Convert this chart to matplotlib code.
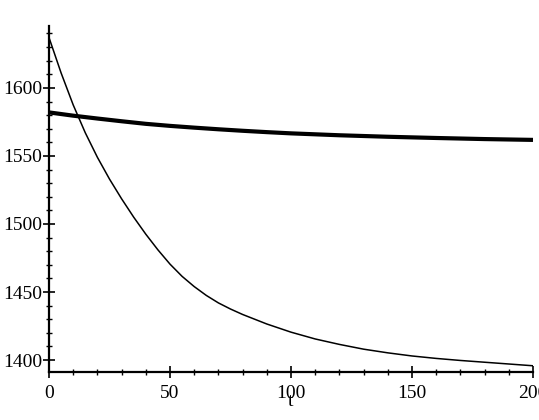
import numpy as np
import matplotlib
matplotlib.use("Agg")
import matplotlib.pyplot as plt
from matplotlib.ticker import MultipleLocator

# thin curve (fast decay)
t_fast = [0, 5, 10, 15, 20, 25, 30, 35, 40, 45, 50, 55, 60, 65, 70, 75, 80,
          90, 100, 110, 120, 130, 140, 150, 160, 170, 180, 190, 200]
y_fast = [1637, 1611, 1587.5, 1567, 1549, 1533, 1518.5, 1505, 1492.5, 1481,
          1470.5, 1461.5, 1454, 1447.5, 1442, 1437.5, 1433.5, 1426.5, 1420.5,
          1415.5, 1411.5, 1408, 1405.3, 1403, 1401.2, 1399.7, 1398.4, 1397.1,
          1395.8]

# thick curve (slow decay)
t_slow = [0, 10, 20, 30, 40, 50, 60, 70, 80, 90, 100, 120, 140, 160, 180, 200]
y_slow = [1582, 1579.6, 1577.5, 1575.5, 1573.6, 1572.1, 1570.8, 1569.6,
          1568.5, 1567.5, 1566.6, 1565.2, 1564.1, 1563.2, 1562.4, 1561.8]

xticks = [0, 50, 100, 150, 200]
yticks = [1400, 1450, 1500, 1550, 1600]

plt.rcParams['font.family'] = ['Liberation Serif', 'DejaVu Serif']

W, H = 539, 420
fig = plt.figure(figsize=(W / 100, H / 100), dpi=100)
ax = fig.add_axes([49 / W, 1 - 372.3 / H, (533 - 49) / W, (372.3 - 26) / H])

ax.plot(t_slow, y_slow, color='black', lw=3.0, solid_capstyle='butt')
ax.plot(t_fast, y_fast, color='black', lw=1.1)

ax.set_xlim(0, 200)
ax.set_ylim(1391, 1645.5)

for s in ['top', 'right']:
    ax.spines[s].set_visible(False)
for s in ['left', 'bottom']:
    ax.spines[s].set_linewidth(1.6)

ax.set_xticks(xticks)
ax.set_yticks(yticks)
ax.xaxis.set_minor_locator(MultipleLocator(10))
ax.yaxis.set_minor_locator(MultipleLocator(10))
ax.tick_params(which='major', direction='inout', length=8, width=1.2,
               labelsize=14, pad=5)
ax.tick_params(which='minor', direction='inout', length=4.5, width=1.0)
ax.tick_params(axis='y', pad=1)

ax.set_xlabel('t', fontsize=14, labelpad=-6)
fig.savefig('out.png', dpi=100)
